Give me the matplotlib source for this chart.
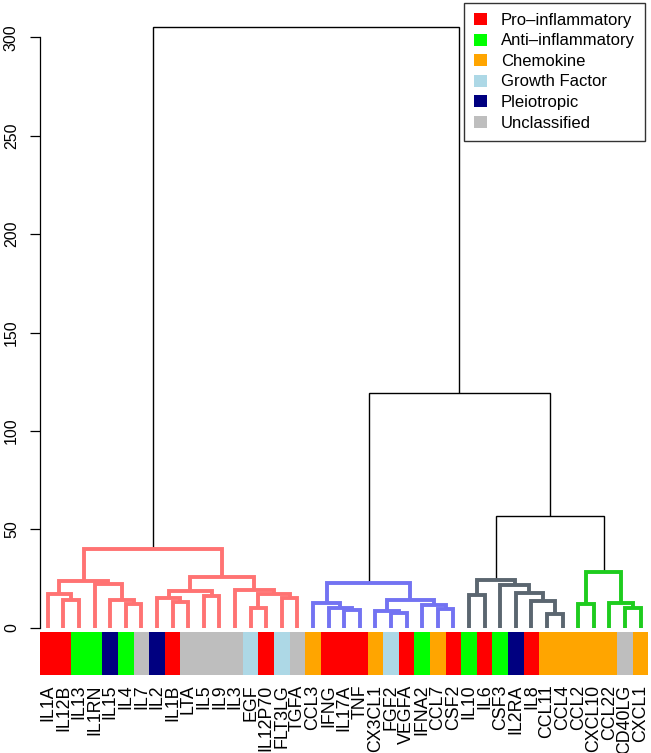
import matplotlib
matplotlib.use("Agg")
import matplotlib.pyplot as plt
from matplotlib.patches import Patch
import numpy as np

plt.rcParams['font.family'] = ['Liberation Sans', 'DejaVu Sans']

# leaves in dendrogram order
leaves = ['IL1A', 'IL12B', 'IL13', 'IL1RN', 'IL15', 'IL4', 'IL7', 'IL2', 'IL1B', 'LTA',
          'IL5', 'IL9', 'IL3', 'EGF', 'IL12P70', 'FLT3LG', 'TGFA', 'CCL3', 'IFNG', 'IL17A',
          'TNF', 'CX3CL1', 'FGF2', 'VEGFA', 'IFNA2', 'CCL7', 'CSF2', 'IL10', 'IL6', 'CSF3',
          'IL2RA', 'IL8', 'CCL11', 'CCL4', 'CCL2', 'CXCL10', 'CCL22', 'CD40LG', 'CXCL1']

categories = ['Pro', 'Pro', 'Anti', 'Anti', 'Pleio', 'Anti', 'Uncl', 'Pleio', 'Pro', 'Uncl',
              'Uncl', 'Uncl', 'Uncl', 'Growth', 'Pro', 'Growth', 'Uncl', 'Chemo', 'Pro', 'Pro',
              'Pro', 'Chemo', 'Growth', 'Pro', 'Anti', 'Chemo', 'Pro', 'Anti', 'Pro', 'Anti',
              'Pleio', 'Pro', 'Chemo', 'Chemo', 'Chemo', 'Chemo', 'Chemo', 'Uncl', 'Chemo']

cat_keys = ['Pro', 'Anti', 'Chemo', 'Growth', 'Pleio', 'Uncl']
cat_names = ['Pro\u2013inflammatory', 'Anti\u2013inflammatory', 'Chemokine',
             'Growth Factor', 'Pleiotropic', 'Unclassified']
cat_colors = ['#FF0000', '#00FF00', '#FFA500', '#ADD8E6', '#000080', '#BEBEBE']

# merges, R hclust style: negative = leaf number, positive = earlier merge number
merge_left = [-2, -1, -6, -5, -4, 2, -9, -8, -11, 8, -14, -16, 11, -13, 10, 6,
              -20, -19, -18, -23, -22, -26, -25, 21, 19,
              -28, -33, -32, -31, -30, 26,
              -35, -38, -37, 32,
              31, 25, 16]
merge_right = [-3, 1, -7, 3, 4, 5, -10, 7, -12, 9, -15, -17, 12, 13, 14, 15,
               -21, 17, 18, -24, 20, -27, 22, 23, 24,
               -29, -34, 27, 28, 29, 30,
               -36, -39, 33, 34,
               35, 36, 37]
merge_height = [14.0, 17.0, 12.0, 14.0, 22.0, 23.8, 13.0, 15.2, 16.0, 18.5, 10.0, 14.9, 17.0, 19.2, 25.8, 40.2,
                9.0, 9.9, 12.7, 7.6, 8.7, 9.3, 11.5, 14.1, 22.6,
                16.6, 7.0, 13.6, 17.8, 21.8, 24.2,
                12.1, 10.2, 12.4, 28.5,
                56.9, 119.5, 305.3]

cluster_roots = [16, 25, 31, 35]
cluster_colors = ['#FF7373', '#7373F2', '#5B6670', '#1ECC1E']

n_merge = len(merge_height)
node_x = {}
node_h = {}


def pos(ref):
    if ref < 0:
        return -ref - 0.5, 0.0
    return node_x[ref], node_h[ref]


for m in range(1, n_merge + 1):
    xl, _ = pos(merge_left[m - 1])
    xr, _ = pos(merge_right[m - 1])
    node_x[m] = (xl + xr) / 2
    node_h[m] = merge_height[m - 1]

# colour of each merge: by cluster, black above the cut
merge_color = {m: 'black' for m in range(1, n_merge + 1)}


def paint(m, col):
    merge_color[m] = col
    for ch in (merge_left[m - 1], merge_right[m - 1]):
        if ch > 0:
            paint(ch, col)


for r, c in zip(cluster_roots, cluster_colors):
    paint(r, c)

fig = plt.figure(figsize=(6.51, 7.53), dpi=100)
ax = fig.add_axes([0.06144, 0.10106, 0.93456, 0.8753])

for m in range(1, n_merge + 1):
    xl, hl = pos(merge_left[m - 1])
    xr, hr = pos(merge_right[m - 1])
    h = merge_height[m - 1]
    col = merge_color[m]
    lw = 1.0 if col == 'black' else 2.8
    ax.plot([xl, xl, xr, xr], [hl, h, h, hr], color=col, lw=lw,
            solid_capstyle='butt', solid_joinstyle='miter', zorder=2 if col == 'black' else 3)

# colour bar under the leaves
x = np.arange(len(leaves)) + 0.5
bar_cols = [cat_colors[cat_keys.index(c)] for c in categories]
ax.bar(x, 22, bottom=-24, width=1.0, color=bar_cols, linewidth=0, zorder=1)

ax.set_xlim(0, len(leaves))
ax.set_ylim(-25, 310)
ax.set_xticks(x)
ax.set_xticklabels(leaves, rotation=90, fontsize=12.8, va='top')
ax.tick_params(axis='x', length=0, pad=5.5)
ax.set_yticks([0, 50, 100, 150, 200, 250, 300])
ax.set_yticklabels(['0', '50', '100', '150', '200', '250', '300'], rotation=90, va='center', fontsize=11.5)
ax.tick_params(axis='y', length=7.2, width=0.9, pad=8)
for s in ['top', 'right', 'bottom']:
    ax.spines[s].set_visible(False)
ax.spines['left'].set_bounds(0, 300)
ax.spines['left'].set_linewidth(0.9)

handles = [Patch(facecolor=c, edgecolor='none') for c in cat_colors]
leg = fig.legend(handles, cat_names, loc='upper right', bbox_to_anchor=(645 / 651, 1 - 3 / 753),
                 fontsize=12, frameon=True, fancybox=False, edgecolor='black',
                 handlelength=0.75, handleheight=0.75, handletextpad=0.85,
                 labelspacing=0.33, borderpad=0.6, borderaxespad=0)
leg.get_frame().set_linewidth(1.0)

fig.savefig('out.png', dpi=100)
